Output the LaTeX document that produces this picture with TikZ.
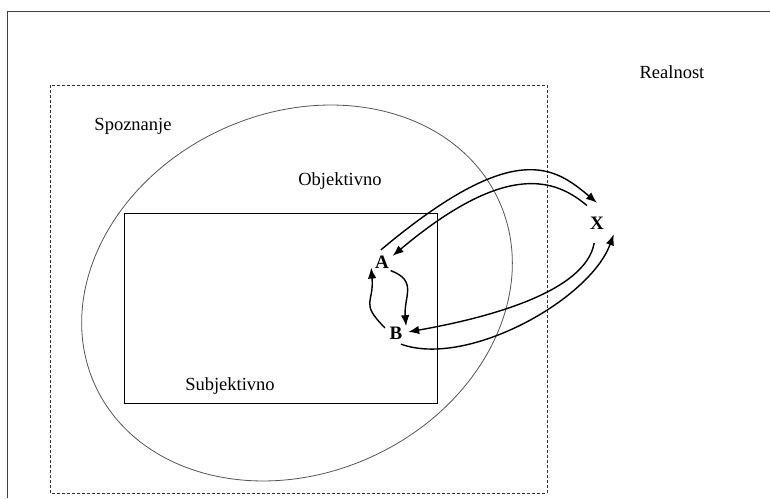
\documentclass[tikz,border=0pt]{standalone}
\usepackage{fontspec}
\setmainfont{Liberation Serif}
\usepackage{tikz}
\usetikzlibrary{arrows.meta,positioning}
\definecolor{ringgray}{HTML}{555555}
\definecolor{dashgray}{HTML}{333333}

\begin{document}
\begin{tikzpicture}[x=1pt,y=1pt,>=Latex,font=\fontsize{18.5}{22}\selectfont,
  flow/.style={line width=1.4pt,-{Latex[length=11pt,width=8.5pt]}},
  pole/.style={circle,inner sep=0pt,minimum size=24pt,
    font=\fontsize{19}{22}\selectfont\bfseries}]
  \useasboundingbox (0,0) rectangle (770,498);
  % frames
  \draw[line width=0.9pt,black!75] (7,0) -- (7,487) -- (770,487);
  \draw[dashgray,dash pattern=on 3pt off 2pt] (50,5) rectangle (547,413);
  \draw[ringgray,line width=0.8pt,rotate around={24.6:(297,205)}]
    (297,205) ellipse [x radius=222,y radius=180];
  \draw[line width=0.8pt] (124,95) rectangle (437,285);
  % labels
  \node (realnost) at (672,426) {Realnost};
  \node (spoznanje) at (133,372) {Spoznanje};
  \node (objektivno) at (340,317) {Objektivno};
  \node (subjektivno) at (230,112) {Subjektivno};
  % poles
  \node[pole] (A) at (382,236) {A};
  \node[pole] (B) at (396,165) {B};
  \node[pole,minimum size=40pt] (X) at (597,275) {X};
  \draw[flow] (A.95) to[out=40,in=140,out distance=175,in distance=55] (X.90);
  \draw[flow] (X.120) to[out=140,in=40,out distance=40,in distance=150] (A.30);
  \draw[flow] (B.-66) to[out=-20,in=-110,out distance=70,in distance=70] (X.-34);
  \draw[flow] (X.-98) to[out=-100,in=10,out distance=50,in distance=80] (B.5);
  \draw[flow] (B.155) to[out=135,in=-85,looseness=1.5] (A.207);
  \draw[flow] (A.-45) to[out=-20,in=95,looseness=1.3] (B.34);
\end{tikzpicture}
\end{document}
